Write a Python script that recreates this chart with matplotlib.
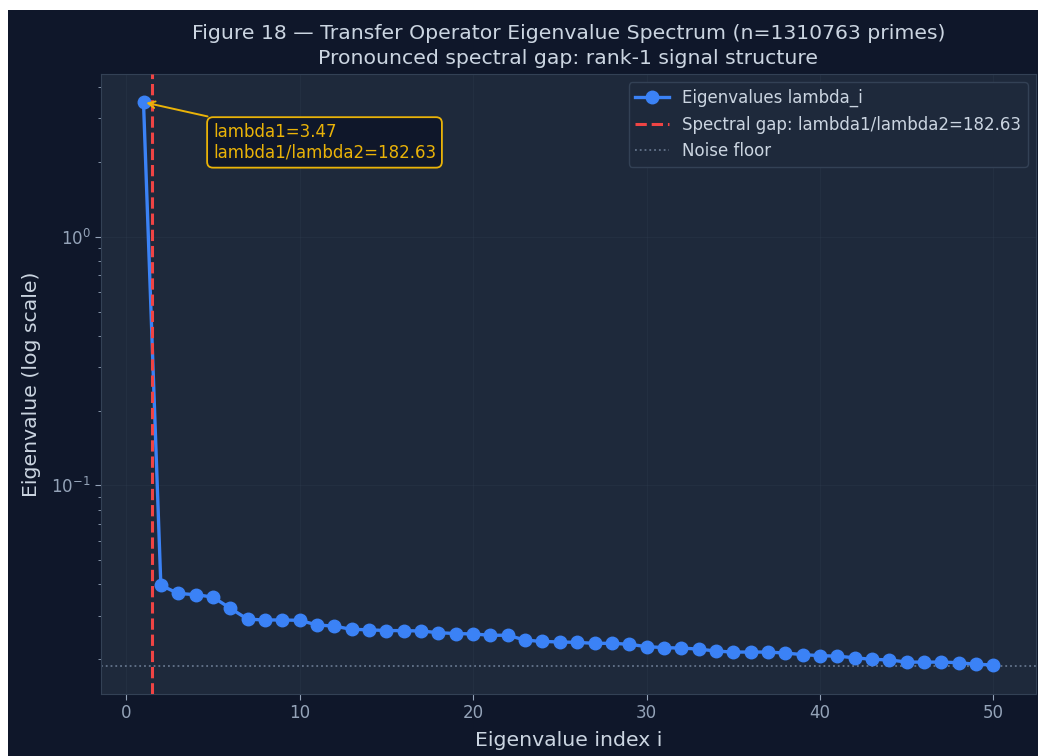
import matplotlib
matplotlib.use("Agg")
import matplotlib.pyplot as plt
from matplotlib.patches import Rectangle
import numpy as np

# ---- data ----
indices = list(range(1, 51))
eigenvalues = [3.47, 0.0397, 0.0368, 0.0364, 0.0356, 0.0321, 0.0290, 0.0288, 0.0288, 0.0287,
               0.0275, 0.0272, 0.0264, 0.0263, 0.0261, 0.0261, 0.0260, 0.0256, 0.0254, 0.0253,
               0.0250, 0.0250, 0.0239, 0.0236, 0.0235, 0.0234, 0.0232, 0.0232, 0.0230, 0.0225,
               0.0223, 0.0222, 0.0220, 0.0216, 0.0214, 0.0214, 0.0214, 0.0212, 0.0209, 0.0207,
               0.0206, 0.0203, 0.0200, 0.0199, 0.0195, 0.0195, 0.0195, 0.0194, 0.0191, 0.0190]
noise_floor = 0.01884
gap_position = 1.5
gap_ratio = 182.63

BG_FIG = "#0f172a"
BG_AX = "#1e293b"
BLUE = "#3b82f6"
RED = "#ef4444"
AMBER = "#eab308"
TEXT = "#cbd5e1"
TICK = "#94a3b8"
SPINE = "#334155"

fig = plt.figure(figsize=(10.38, 7.56), dpi=100, facecolor="white")
fig.patches.append(Rectangle((8 / 1038, 0), 1, 746 / 756, transform=fig.transFigure,
                             facecolor=BG_FIG, edgecolor="none", zorder=-10))
ax = fig.add_axes([101 / 1038, 1 - 694 / 756, (1036 - 101) / 1038, (694 - 74) / 756])
ax.set_facecolor(BG_AX)

ax.plot(indices, eigenvalues, "-o", color=BLUE, lw=2.4, markersize=9,
        label="Eigenvalues lambda_i", zorder=3)
ax.axvline(gap_position, color=RED, ls="--", lw=2.2,
           label=f"Spectral gap: lambda1/lambda2={gap_ratio:.2f}", zorder=4)
ax.axhline(noise_floor, color="#64748b", ls=":", lw=1.3, label="Noise floor", zorder=2)
ax.set_yscale("log")
lo = min(min(eigenvalues), noise_floor)
hi = max(eigenvalues)
span = np.log10(hi) - np.log10(lo)
ax.set_ylim(10 ** (np.log10(lo) - 0.05 * span), 10 ** (np.log10(hi) + 0.05 * span))
ax.set_xlim(min(indices) - 0.05 * (max(indices) - min(indices)),
            max(indices) + 0.05 * (max(indices) - min(indices)))

ax.annotate(f"lambda1={eigenvalues[0]:.2f}\nlambda1/lambda2={gap_ratio:.2f}",
            xy=(indices[0], eigenvalues[0]), xytext=(50, -15), textcoords="offset points",
            ha="left", va="top", color=AMBER, fontsize=12,
            bbox=dict(boxstyle="round,pad=0.35", facecolor=BG_FIG, edgecolor=AMBER, lw=1.3),
            arrowprops=dict(arrowstyle="->", color=AMBER, lw=1.4), zorder=6)

ax.set_title("Figure 18 \u2014 Transfer Operator Eigenvalue Spectrum (n=1310763 primes)\n"
             "Pronounced spectral gap: rank-1 signal structure", color=TEXT, fontsize=14.7,
             linespacing=1.35, pad=7.5)
ax.set_xlabel("Eigenvalue index i", color=TEXT, fontsize=14.7, labelpad=6)
ax.set_ylabel("Eigenvalue (log scale)", color=TEXT, fontsize=14.7, labelpad=7)
ax.tick_params(colors=TICK, labelsize=12, which="both")
ax.tick_params(which="major", length=4)
for s in ax.spines.values():
    s.set_color(SPINE)
ax.grid(True, color="#334155", alpha=0.25, lw=0.8)
ax.set_axisbelow(True)

leg = ax.legend(loc="upper right", fontsize=12, facecolor=BG_AX, edgecolor=SPINE,
                labelcolor=TEXT, framealpha=1)

fig.savefig("out.png", dpi=100, facecolor=fig.get_facecolor())
